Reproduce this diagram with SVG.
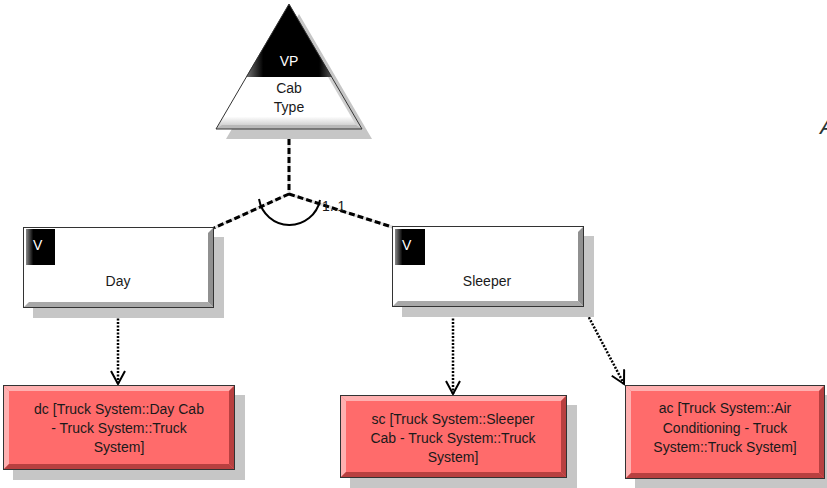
<svg xmlns="http://www.w3.org/2000/svg" width="827" height="488" viewBox="0 0 827 488">
<defs>
<style>
text{font-family:"Liberation Sans",Arial,sans-serif;font-size:14px;fill:#1a1a1a}
.shadow{fill:#c6c6c6}
.edge{fill:none;stroke:#333;stroke-width:1}
.wfill{fill:#fff}
.rfill{fill:#ff6b6b}
.rhl{fill:#ffb0b0}
.dk{fill:#a8a8a8}
.rdk{fill:#b84040}
.dash{fill:none;stroke:#000;stroke-width:3;stroke-dasharray:6 3}
.dashbg{fill:none;stroke:#e0e0e0;stroke-width:3}
.dot{fill:none;stroke:#000;stroke-width:2.5;stroke-dasharray:2 1.5}
.vt{fill:#fff}
</style>
<marker id="open" viewBox="0 0 16 16" refX="14" refY="8" markerWidth="16" markerHeight="16" markerUnits="userSpaceOnUse" orient="auto">
<path d="M1,1 L14,8 L1,15" fill="none" stroke="#000" stroke-width="2"/>
</marker>
<linearGradient id="vsq" x1="0" y1="0" x2="1" y2="0">
<stop offset="0" stop-color="#888"/><stop offset="0.25" stop-color="#000"/><stop offset="1" stop-color="#000"/>
</linearGradient>
<linearGradient id="vpg" x1="0" y1="0" x2="1" y2="0">
<stop offset="0" stop-color="#777"/><stop offset="0.2" stop-color="#000"/><stop offset="0.85" stop-color="#000"/><stop offset="1" stop-color="#555"/>
</linearGradient>
<linearGradient id="tribot" x1="0" y1="0" x2="0" y2="1">
<stop offset="0" stop-color="#fff"/><stop offset="0.9" stop-color="#fff"/><stop offset="1" stop-color="#bdbdbd"/>
</linearGradient>
</defs>

<g id="connectors">
<path class="dashbg" d="M289,130 L289,194 M289,194 L214,228 M289,194 L392,227"/>
<path class="dash" d="M289,130 L289,194 M289,194 L214,228 M289,194 L392,227"/>
<path d="M259,199 A31,31 0 0 0 320,200" fill="none" stroke="#000" stroke-width="2"/>
<text x="322" y="211">1..1</text>
<path class="dot" d="M118,308 L118,384" marker-end="url(#open)"/>
<path class="dot" d="M453,308 L453,394" marker-end="url(#open)"/>
<path class="dot" d="M584,308 L624,384" marker-end="url(#open)"/>
</g>

<g id="vp-cab-type">
<polygon class="shadow" points="299,14 372,139 226,139"/>
<polygon points="289,4 362,129 216,129" fill="url(#tribot)"/>
<polygon points="289,4 362,129 356,125 289,10" fill="#cfcfcf"/>
<polygon points="216,129 362,129 356,125 222,125" fill="#b8b8b8"/>
<polygon points="289,4 246,77 332,77" fill="url(#vpg)"/>
<polygon class="edge" points="289,4 362,129 216,129"/>
<text x="289" y="66" text-anchor="middle" class="vt">VP</text>
<text x="289" y="93" text-anchor="middle">Cab</text>
<text x="289" y="112" text-anchor="middle">Type</text>
</g>

<g id="day">
<rect class="shadow" x="33" y="237" width="191" height="81"/>
<rect class="wfill" x="23" y="227" width="191" height="81"/>
<polygon class="dk" points="23,308 214,308 208,302 29,302"/>
<polygon points="214,227 214,308 208,302 208,233" fill="#909090"/>
<rect class="edge" x="23.5" y="227.5" width="190" height="80"/>
<rect x="26" y="229" width="29" height="36" fill="url(#vsq)"/>
<text x="33" y="250" class="vt">V</text>
<text x="118" y="286" text-anchor="middle">Day</text>
</g>

<g id="sleeper">
<rect class="shadow" x="402" y="236" width="192" height="81"/>
<rect class="wfill" x="392" y="226" width="192" height="81"/>
<polygon class="dk" points="392,307 584,307 578,301 398,301"/>
<polygon points="584,226 584,307 578,301 578,232" fill="#909090"/>
<rect class="edge" x="392.5" y="226.5" width="191" height="80"/>
<rect x="395" y="229" width="30" height="36" fill="url(#vsq)"/>
<text x="402" y="250" class="vt">V</text>
<text x="487" y="286" text-anchor="middle">Sleeper</text>
</g>

<g id="dc">
<rect class="shadow" x="13" y="395" width="232" height="85"/>
<rect class="rfill" x="3" y="385" width="232" height="85"/>
<polygon class="rhl" points="3,385 235,385 229,391 9,391"/>
<polygon class="rhl" points="3,385 9,391 9,464 3,470"/>
<polygon class="rdk" points="3,470 235,470 229,464 9,464"/>
<polygon class="rdk" points="235,385 235,470 229,464 229,391"/>
<rect x="9" y="391" width="220" height="73" class="rfill"/>
<rect class="edge" x="3.5" y="385.5" width="231" height="84"/>
<text x="119" y="414" text-anchor="middle">dc [Truck System::Day Cab</text>
<text x="119" y="433" text-anchor="middle">- Truck System::Truck</text>
<text x="119" y="452" text-anchor="middle">System]</text>
</g>

<g id="sc">
<rect class="shadow" x="350" y="405" width="227" height="83"/>
<rect class="rfill" x="340" y="395" width="227" height="83"/>
<polygon class="rhl" points="340,395 567,395 561,401 346,401"/>
<polygon class="rhl" points="340,395 346,401 346,472 340,478"/>
<polygon class="rdk" points="340,478 567,478 561,472 346,472"/>
<polygon class="rdk" points="567,395 567,478 561,472 561,401"/>
<rect x="346" y="401" width="215" height="71" class="rfill"/>
<rect class="edge" x="340.5" y="395.5" width="226" height="82"/>
<text x="453" y="424" text-anchor="middle">sc [Truck System::Sleeper</text>
<text x="453" y="443" text-anchor="middle">Cab - Truck System::Truck</text>
<text x="453" y="462" text-anchor="middle">System]</text>
</g>

<g id="ac">
<rect class="shadow" x="635" y="395" width="200" height="93"/>
<rect class="rfill" x="625" y="385" width="200" height="94"/>
<polygon class="rhl" points="625,385 825,385 819,391 631,391"/>
<polygon class="rhl" points="625,385 631,391 631,473 625,479"/>
<polygon class="rdk" points="625,479 825,479 819,473 631,473"/>
<polygon class="rdk" points="825,385 825,479 819,473 819,391"/>
<rect x="631" y="391" width="188" height="82" class="rfill"/>
<rect class="edge" x="625.5" y="385.5" width="199" height="93"/>
<text x="725" y="413" text-anchor="middle">ac [Truck System::Air</text>
<text x="725" y="433" text-anchor="middle">Conditioning - Truck</text>
<text x="725" y="452" text-anchor="middle">System::Truck System]</text>
</g>

<text x="820" y="134" style="font-size:22px;fill:#2a3535;font-style:italic">A</text>
</svg>
